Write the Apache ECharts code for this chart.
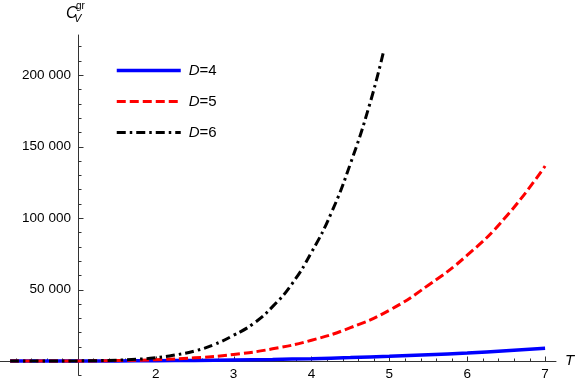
<!DOCTYPE html>
<html>
<head>
<meta charset="utf-8">
<script src="https://cdn.jsdelivr.net/npm/echarts@6/dist/echarts.min.js"></script>
<style>
  html, body { margin: 0; padding: 0; background: #fff; }
  #chart { width: 581px; height: 382px; }
</style>
</head>
<body>
<div id="chart"></div>
<script>
// values (T, C_V^gr)
const tD4 = [0.13, 1, 1.5, 2, 2.5, 3, 3.5, 4, 4.5, 5, 5.5, 6, 6.5, 7];
const cD4 = [0, 25, 80, 200, 400, 700, 1100, 1650, 2400, 3300, 4400, 5600, 7100, 8900];
const tD5 = [0.13, 1, 1.5, 2, 2.5, 3, 3.5, 4, 4.5, 5, 5.5, 6, 6.5, 7];
const cD5 = [0, 60, 290, 900, 2200, 4600, 8500, 14500, 23300, 35500, 53000, 74000, 101000, 136400];
const tD6 = [0.13, 1, 1.25, 1.5, 1.75, 2, 2.25, 2.5, 2.75, 3, 3.25, 3.5, 3.75, 4, 4.25, 4.5, 4.75, 4.93];
const cD6 = [0, 80, 220, 550, 1200, 2300, 4200, 7000, 11500, 18000, 26000, 38000, 54000, 76000, 103000, 138000, 180000, 217500];

const seriesNames = ['D=4', 'D=5', 'D=6'];
const xTickLabels = [2, 3, 4, 5, 6, 7];
const yTickLabels = [50000, 100000, 150000, 200000];

const FONT = '"Liberation Sans", Arial, sans-serif';
const AXIS = '#333';
const Y_AXIS_AT = 1; // the vertical axis crosses at T = 1

// tick marks: [value, length]; long at whole T and every 50 000, short in between
const xTicks = [];
for (let i = 1; i <= 35; i++) xTicks.push([i / 5, i % 5 === 0 ? 5 : 3]);
const yTicks = [];
for (let v = -10000; v <= 220000; v += 10000) if (v !== 0) yTicks.push([v, v % 50000 === 0 ? 5 : 3]);

const pairs = (ts, cs) => ts.map((t, i) => [t, cs[i]]);
const fmtThousands = v => String(v).replace(/\B(?=(\d{3})+(?!\d))/g, ' ');

const chart = echarts.init(document.getElementById('chart'));

const tickSeries = (name, data, horizontal) => ({
  name, type: 'custom', data, silent: true, clip: false, z: 1,
  renderItem: (params, api) => {
    const len = api.value(1);
    const p = horizontal ? api.coord([api.value(0), 0]) : api.coord([Y_AXIS_AT, api.value(0)]);
    const x = Math.round(p[0]) + 0.5, y = Math.round(p[1]) + 0.5;
    return {
      type: 'line',
      shape: horizontal ? { x1: x, y1: y, x2: x, y2: y - len } : { x1: x, y1: y, x2: x + len, y2: y },
      style: { stroke: AXIS, lineWidth: 1 },
    };
  },
});

const options = {
  animation: false,
  grid: { left: 0, top: 35, width: 556, height: 340.3, outerBoundsMode: 'none', containLabel: false },
  xAxis: {
    type: 'value', min: 0, max: 7.14, interval: 1,
    splitLine: { show: false },
    axisLine: { show: true, onZero: true, lineStyle: { color: AXIS, width: 1 } },
    axisTick: { show: false },
    // labels sit at the grid bottom when the line is on zero, pull them up under the line
    axisLabel: {
      show: true, color: '#000', fontSize: 13.5, fontFamily: FONT, margin: -8,
      formatter: v => (xTickLabels.includes(v) ? String(v) : ''),
    },
    name: 'T',
    nameLocation: 'end',
    nameGap: 9,
    nameTextStyle: { fontStyle: 'italic', fontSize: 15, color: '#000', fontFamily: FONT },
  },
  yAxis: {
    type: 'value', min: -10000, max: 228000, interval: 10000,
    position: 'left', offset: -77.9,
    splitLine: { show: false },
    axisLine: { show: true, onZero: false, lineStyle: { color: AXIS, width: 1 } },
    axisTick: { show: false },
    axisLabel: {
      show: true, color: '#000', fontSize: 13.5, fontFamily: FONT, margin: 7,
      formatter: v => (yTickLabels.includes(v) ? fmtThousands(v) : ''),
    },
  },
  legend: {
    orient: 'vertical',
    left: 115,
    top: 63,
    padding: 0,
    itemWidth: 64,
    itemHeight: 14,
    itemGap: 16,
    data: seriesNames,
    selectedMode: false,
    lineStyle: { width: 'inherit' },
    itemStyle: { color: 'rgba(0,0,0,0)', borderWidth: 0, opacity: 0 },
    formatter: n => '{i|D}{n|' + n.slice(1) + '}',
    textStyle: {
      fontSize: 15, color: '#000', fontFamily: FONT, padding: [0, 0, 0, 3],
      rich: {
        i: { fontStyle: 'italic', fontSize: 15, color: '#000', fontFamily: FONT },
        n: { fontSize: 15, color: '#000', fontFamily: FONT },
      },
    },
  },
  graphic: [
    { type: 'text', left: 66, top: 6, style: { text: 'C', font: 'italic 16px ' + FONT, fill: '#000' } },
    { type: 'text', left: 76, top: 1, style: { text: 'gr', font: '10px ' + FONT, fill: '#000' } },
    { type: 'text', left: 74, top: 13, style: { text: 'V', font: 'italic 11px ' + FONT, fill: '#000' } },
  ],
  series: [
    tickSeries('xticks', xTicks, true),
    tickSeries('yticks', yTicks, false),
    {
      name: seriesNames[0], type: 'line', data: pairs(tD4, cD4), z: 3,
      symbol: 'none', smooth: 0.5,
      lineStyle: { color: '#0000ff', width: 3.5 }, itemStyle: { color: '#0000ff' },
    },
    {
      name: seriesNames[1], type: 'line', data: pairs(tD5, cD5), z: 3,
      symbol: 'none', smooth: 0.5,
      lineStyle: { color: '#ff0000', width: 3, type: [9, 4] }, itemStyle: { color: '#ff0000' },
    },
    {
      name: seriesNames[2], type: 'line', data: pairs(tD6, cD6), z: 3,
      symbol: 'none', smooth: 0.5,
      lineStyle: { color: '#000', width: 3, type: [9, 4, 2.5, 4] }, itemStyle: { color: '#000' },
    },
  ],
};

chart.setOption(options);
</script>
</body>
</html>
